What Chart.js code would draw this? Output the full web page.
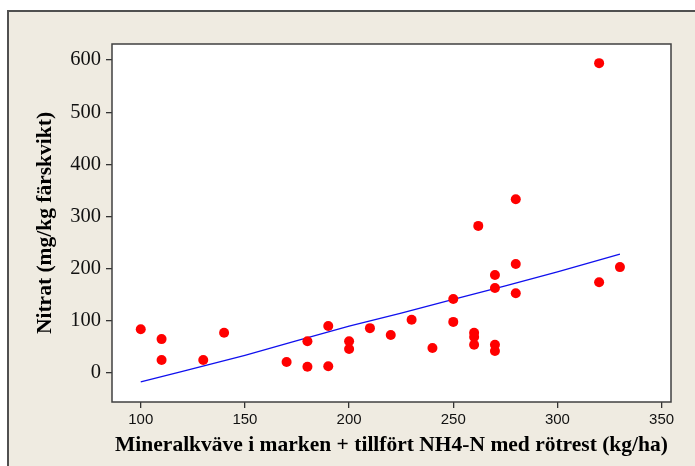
<!DOCTYPE html>
<html>
<head>
<meta charset="utf-8">
<script src="https://cdn.jsdelivr.net/npm/chart.js@4.4.1/dist/chart.umd.min.js"></script>
<style>
  html, body { margin: 0; padding: 0; background: #ffffff; }
  #wrap { position: relative; width: 695px; height: 466px; }
</style>
</head>
<body>
<div id="wrap"><canvas id="myChart" width="695" height="466"></canvas></div>
<script>
// measured points: mineral N (kg/ha) vs nitrate (mg/kg)
const kvave = [100, 110, 110, 130, 140, 170, 180, 180, 190, 190, 200, 200, 210, 220, 230, 240,
               250, 250, 260, 260, 260, 262, 270, 270, 270, 270, 280, 280, 280, 320, 320, 330];
const nitrat = [84, 65, 25, 25, 77, 21, 61, 12, 90, 13, 61, 46, 86, 73, 102, 48,
                142, 98, 77, 69, 54, 282, 188, 163, 54, 42, 333, 209, 153, 594, 174, 203];

// fitted line
const lineX = [100, 120, 150, 175, 200, 225, 250, 275, 300, 330];
const lineY = [-17, 3, 34, 62, 90, 115, 141, 167, 194, 228];

const xTicks = [100, 150, 200, 250, 300, 350];
const yTicks = [0, 100, 200, 300, 400, 500, 600];

const xTitle = 'Mineralkväve i marken + tillfört NH4-N med rötrest (kg/ha)';
const yTitle = 'Nitrat (mg/kg färskvikt)';

const frame = {
  id: 'frame',
  beforeDraw(chart) {
    const c = chart.ctx, a = chart.chartArea;
    c.save();
    c.fillStyle = '#ffffff';
    c.fillRect(0, 0, chart.width, chart.height);
    c.fillStyle = '#efebe1';
    c.fillRect(8, 11, chart.width, chart.height);
    c.strokeStyle = '#505050';
    c.lineWidth = 2;
    c.beginPath();
    c.moveTo(8, chart.height + 2);
    c.lineTo(8, 11);
    c.lineTo(chart.width + 2, 11);
    c.stroke();
    c.fillStyle = '#ffffff';
    c.fillRect(a.left, a.top, a.right - a.left, a.bottom - a.top);
    c.restore();
  },
  afterDraw(chart) {
    const c = chart.ctx, a = chart.chartArea;
    c.save();
    c.strokeStyle = '#404040';
    c.lineWidth = 1.5;
    c.strokeRect(a.left, a.top, a.right - a.left, a.bottom - a.top);
    c.restore();
  }
};

const ctx = document.getElementById('myChart');
new Chart(ctx, {
  type: 'scatter',
  data: {
    datasets: [
      {
        type: 'line',
        data: lineX.map((x, i) => ({ x: x, y: lineY[i] })),
        borderColor: '#1010ee',
        borderWidth: 1.3,
        pointRadius: 0,
        fill: false,
        order: 2
      },
      {
        data: kvave.map((x, i) => ({ x: x, y: nitrat[i] })),
        backgroundColor: '#ff0000',
        borderColor: '#ff0000',
        pointRadius: 5,
        pointBorderWidth: 0,
        order: 1
      }
    ]
  },
  options: {
    responsive: false,
    animation: false,
    layout: { padding: { left: 0, top: 44, right: 24, bottom: 0 } },
    plugins: { legend: { display: false }, tooltip: { enabled: false } },
    scales: {
      x: {
        type: 'linear',
        min: 86.2,
        max: 354.5,
        afterBuildTicks: s => { s.ticks = xTicks.map(v => ({ value: v })); },
        afterFit: s => { s.height = 64; },
        grid: { drawOnChartArea: false, tickLength: 6, color: '#333333', lineWidth: 1.3 },
        border: { display: false },
        ticks: {
          color: '#111',
          padding: 3,
          maxRotation: 0,
          font: { family: 'Liberation Sans', size: 15 }
        },
        title: {
          display: true,
          text: xTitle,
          color: '#000',
          padding: { top: 4, bottom: 8 },
          font: { family: 'Liberation Serif', size: 21.5, weight: 'bold' }
        }
      },
      y: {
        type: 'linear',
        min: -55.6,
        max: 630.7,
        afterBuildTicks: s => { s.ticks = yTicks.map(v => ({ value: v })); },
        afterFit: s => { s.width = 112; },
        grid: { drawOnChartArea: false, tickLength: 6, color: '#333333', lineWidth: 1.3 },
        border: { display: false },
        ticks: {
          color: '#111',
          padding: 5,
          font: { family: 'Liberation Serif', size: 20.5 }
        },
        title: {
          display: true,
          text: yTitle,
          color: '#000',
          padding: { top: 33, bottom: 0 },
          font: { family: 'Liberation Serif', size: 21.5, weight: 'bold' }
        }
      }
    }
  },
  plugins: [frame]
});
</script>
</body>
</html>
